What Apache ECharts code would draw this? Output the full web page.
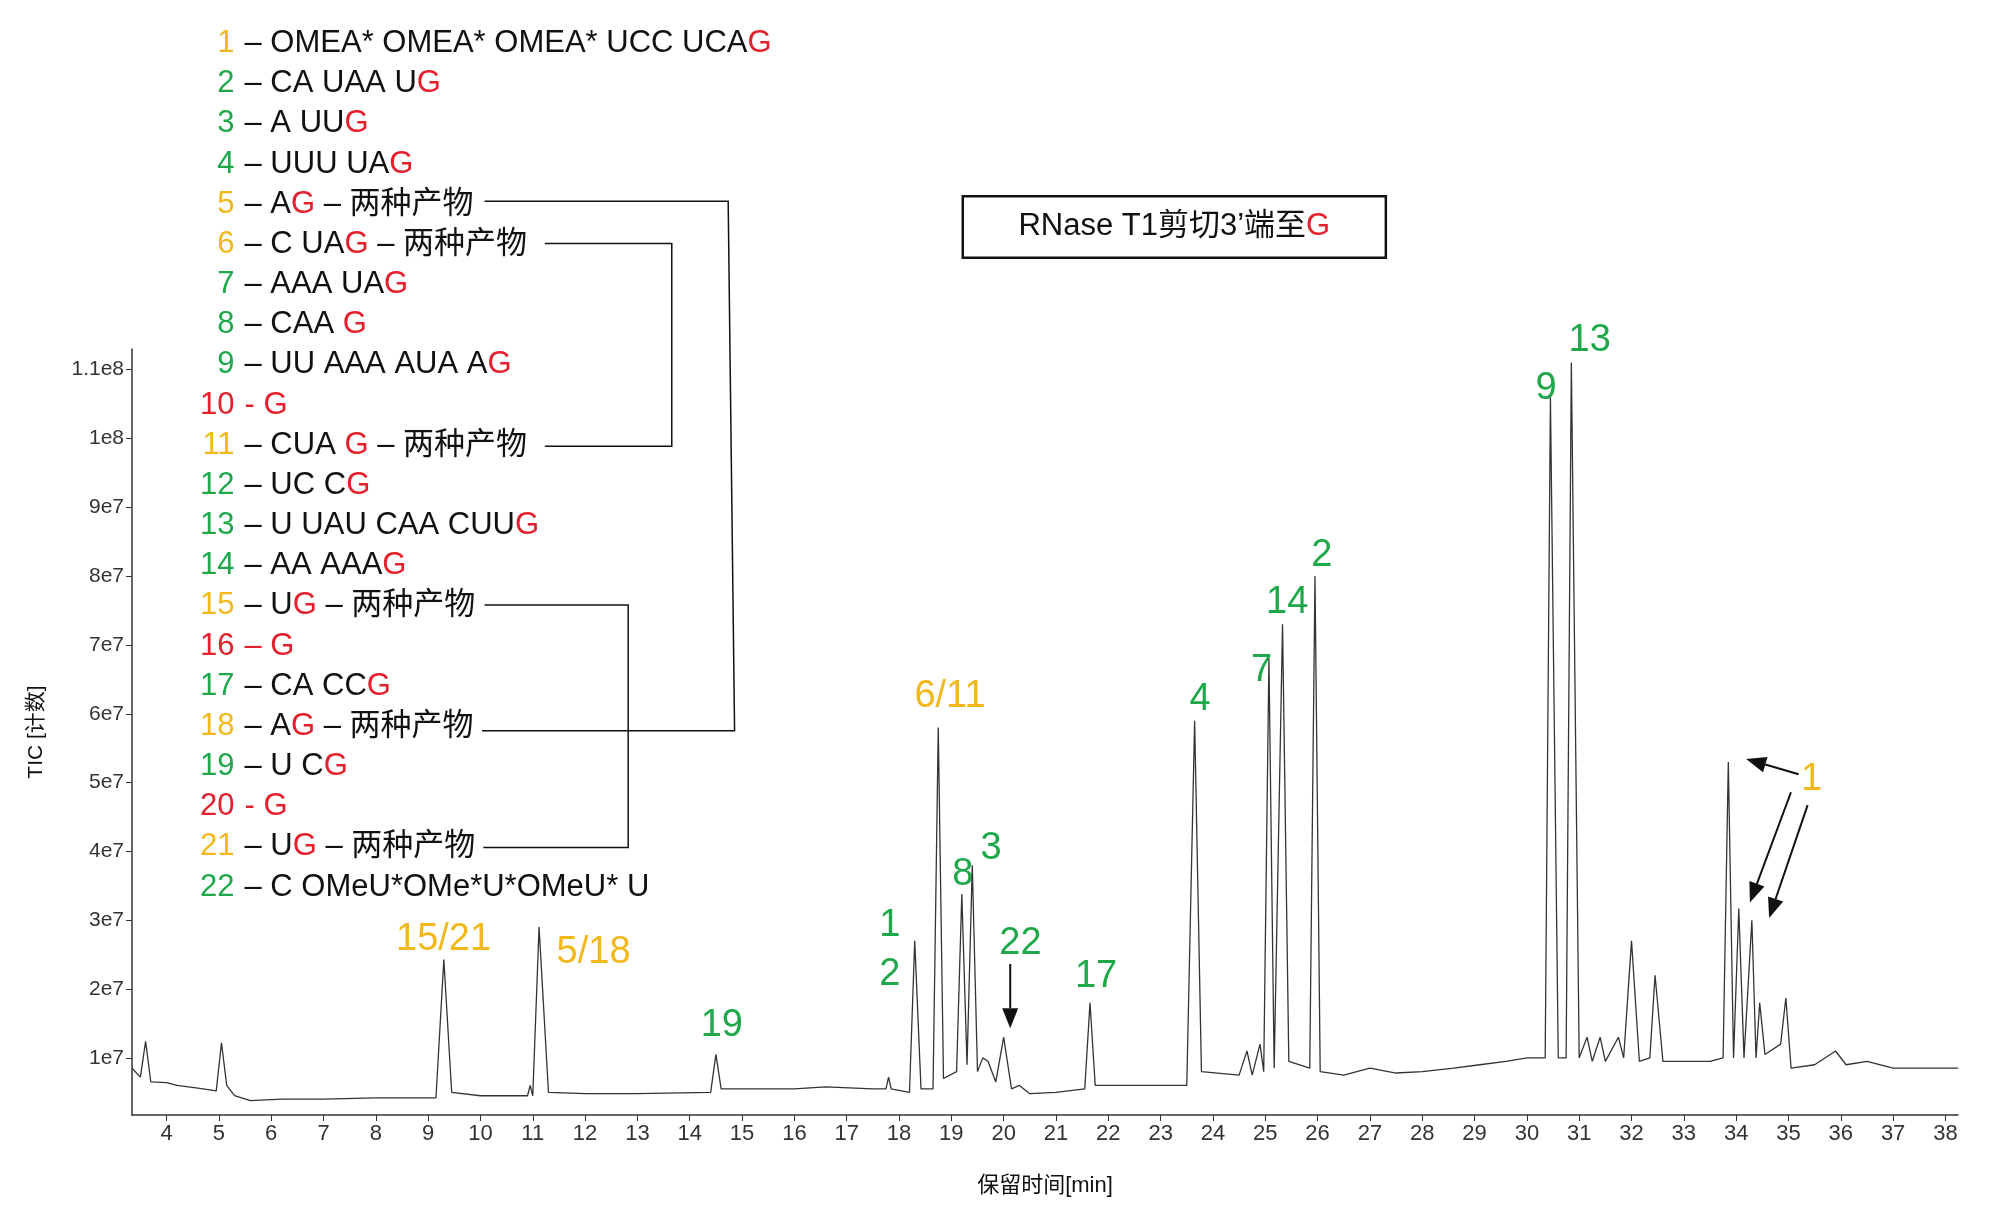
<!DOCTYPE html><html><head><meta charset="utf-8"><script src="https://cdn.jsdelivr.net/npm/echarts@6/dist/echarts.min.js"></script>
<style>html,body{margin:0;background:#fff}#c{width:2000px;height:1213px}</style></head><body><div id="c"></div><script>
// chromatogram points [time(min), TIC]
const ticPoints = [
[3.34,0.85e7],[3.5,0.72e7],[3.6,1.24e7],[3.7,0.65e7],[4.0,0.64e7],[4.2,0.6e7],[4.6,0.56e7],[4.95,0.52e7],[5.05,1.22e7],[5.15,0.6e7],[5.3,0.45e7],[5.6,0.38e7],[6.2,0.4e7],[7,0.4e7],[8,0.42e7],[9.15,0.42e7],[9.3,2.43e7],[9.45,0.5e7],[10,0.45e7],[10.9,0.45e7],[10.95,0.6e7],[11.0,0.45e7],[11.12,2.9e7],[11.3,0.5e7],[12,0.48e7],[13,0.48e7],[14.4,0.5e7],[14.5,1.05e7],[14.6,0.55e7],[15,0.55e7],[16,0.55e7],[16.6,0.58e7],[17.5,0.55e7],[17.75,0.55e7],[17.8,0.72e7],[17.85,0.55e7],[18.2,0.5e7],[18.3,2.7e7],[18.42,0.55e7],[18.65,0.55e7],[18.75,5.8e7],[18.85,0.7e7],[19.1,0.8e7],[19.2,3.38e7],[19.3,0.9e7],[19.4,3.8e7],[19.5,0.8e7],[19.6,1.0e7],[19.7,0.95e7],[19.85,0.65e7],[20.0,1.3e7],[20.15,0.55e7],[20.3,0.6e7],[20.5,0.48e7],[21,0.5e7],[21.55,0.55e7],[21.65,1.8e7],[21.75,0.6e7],[22.5,0.6e7],[23.5,0.6e7],[23.65,5.9e7],[23.78,0.8e7],[24.5,0.75e7],[24.65,1.1e7],[24.75,0.75e7],[24.9,1.2e7],[24.97,0.8e7],[25.07,6.8e7],[25.17,0.85e7],[25.33,7.3e7],[25.45,0.95e7],[25.85,0.85e7],[25.95,8.0e7],[26.05,0.8e7],[26.5,0.75e7],[27,0.85e7],[27.5,0.78e7],[28,0.8e7],[28.6,0.85e7],[29.1,0.9e7],[29.6,0.95e7],[30,1.0e7],[30.35,1.0e7],[30.45,10.6e7],[30.6,1.0e7],[30.75,1.0e7],[30.85,11.1e7],[31.0,1.0e7],[31.15,1.3e7],[31.25,0.95e7],[31.4,1.3e7],[31.5,0.95e7],[31.75,1.3e7],[31.85,1.0e7],[32.0,2.7e7],[32.15,0.95e7],[32.35,1.0e7],[32.45,2.2e7],[32.6,0.95e7],[33,0.95e7],[33.5,0.95e7],[33.75,1.0e7],[33.85,5.3e7],[33.95,1.0e7],[34.05,3.17e7],[34.15,1.0e7],[34.3,3.0e7],[34.38,1.0e7],[34.45,1.8e7],[34.55,1.05e7],[34.85,1.2e7],[34.95,1.87e7],[35.05,0.85e7],[35.5,0.9e7],[35.9,1.1e7],[36.1,0.9e7],[36.5,0.95e7],[37,0.85e7],[38.24,0.85e7]
];
const yTicks = ['1e7','2e7','3e7','4e7','5e7','6e7','7e7','8e7','9e7','1e8','1.1e8'];
const legendItems = [
['1','y','OMEA* OMEA* OMEA* UCC UCA','G',''],['2','g','CA UAA U','G',''],['3','g','A UU','G',''],['4','g','UUU UA','G',''],
['5','y','A','G',' – 两种产物'],['6','y','C UA','G',' – 两种产物'],['7','g','AAA UA','G',''],['8','g','CAA ','G',''],
['9','g','UU AAA AUA A','G',''],['10','r','','G',''],['11','y','CUA ','G',' – 两种产物'],['12','g','UC C','G',''],
['13','g','U UAU CAA CUU','G',''],['14','g','AA AAA','G',''],['15','y','U','G',' – 两种产物'],['16','r','','G',''],
['17','g','CA CC','G',''],['18','y','A','G',' – 两种产物'],['19','g','U C','G',''],['20','r','','G',''],
['21','y','U','G',' – 两种产物'],['22','g','C OMeU*OMe*U*OMeU* U','','']
];
const peakLabels = [
['15/21','y',346,733],['5/18','y',463,743],['19','g',563,800],['1','g',694,722],['2','g',694,760],['6/11','y',741,543],
['8','g',751,682],['3','g',773,662],['22','g',796,736],['17','g',855,762],['4','g',936,546],['7','g',984,523],
['14','g',1004,470],['2','g',1031,433],['9','g',1206,303],['13','g',1240,266],['1','y',1413,608]
];
const C={y:'#F2B71A',g:'#1EA84A',r:'#E3202B',k:'#111'};
const S=1.282;
const F='"Liberation Sans", Arial, "Noto Sans CJK SC", sans-serif';
const FN='"Liberation Sans Narrow", "Liberation Sans", "Noto Sans CJK SC", sans-serif';
const LF='31px '+F;
const g=[];
legendItems.forEach((it,i)=>{
  const y=(34+i*31.33)*S;
  g.push({type:'text',x:183*S,y:y,style:{text:it[0],fill:C[it[1]],font:LF,textAlign:'right',textVerticalAlign:'middle'}});
  let txt;
  if(it[1]==='r') txt='{r|'+(it[0]==='16'?' – ':' - ')+'G}';
  else txt='{k| – '+it[2]+'}'+(it[3]?'{r|'+it[3]+'}':'')+(it[4]?'{k|'+it[4]+'}':'');
  g.push({type:'text',x:184*S,y:y,style:{textVerticalAlign:'middle',font:LF,text:txt,
    rich:{k:{fill:C.k,font:LF},r:{fill:C.r,font:LF}}}});
});
const ln=(pts)=>g.push({type:'polyline',shape:{points:pts.map(p=>[p[0]*S,p[1]*S])},style:{stroke:'#111',lineWidth:1.5,fill:null}});
ln([[378,157],[568,157],[573,570],[376,570]]);
ln([[425,190],[524,190],[524,348],[425,348]]);
ln([[378,472],[490,472],[490,661],[377,661]]);
peakLabels.forEach(p=>g.push({type:'text',x:p[2]*S,y:p[3]*S,style:{text:p[0],fill:C[p[1]],font:'38px '+FN,textAlign:'center',textVerticalAlign:'middle'}}));
const arrow=(x1,y1,x2,y2)=>{x1*=S;y1*=S;x2*=S;y2*=S;const a=Math.atan2(y2-y1,x2-x1),L=20,W=8;
  const bx=x2-L*Math.cos(a),by=y2-L*Math.sin(a);
  g.push({type:'line',shape:{x1,y1,x2:bx,y2:by},style:{stroke:'#111',lineWidth:2}});
  g.push({type:'polygon',shape:{points:[[x2,y2],[bx+W*Math.sin(a),by-W*Math.cos(a)],[bx-W*Math.sin(a),by+W*Math.cos(a)]]},style:{fill:'#111'}});};
arrow(788,752,788,802);arrow(1403,604,1362,592);arrow(1397,618,1365,704);arrow(1410,628,1380,716);
g.push({type:'rect',shape:{x:751*S,y:153*S,width:330*S,height:48*S},style:{fill:'#fff',stroke:'#111',lineWidth:2.5}});
g.push({type:'text',x:916*S,y:177*S,style:{text:'{k|RNase T1剪切3’端至}{r|G}',textAlign:'center',textVerticalAlign:'middle',rich:{k:{fill:C.k,font:'31px '+F},r:{fill:C.r,font:'31px '+F}}}});
const ch=echarts.init(document.getElementById('c'));
ch.setOption({animation:false,
 grid:{left:132,right:42,top:349,bottom:98},
 xAxis:{type:'value',min:3.34,max:38.24,name:'保留时间[min]',nameLocation:'middle',nameGap:60,nameTextStyle:{fontFamily:F,fontSize:22,color:'#111'},
  axisLine:{onZero:false,lineStyle:{color:'#333',width:1.5}},axisTick:{length:6,lineStyle:{color:'#333'},customValues:[4,5,6,7,8,9,10,11,12,13,14,15,16,17,18,19,20,21,22,23,24,25,26,27,28,29,30,31,32,33,34,35,36,37,38]},
  axisLabel:{fontFamily:FN,fontSize:22,color:'#333',customValues:[4,5,6,7,8,9,10,11,12,13,14,15,16,17,18,19,20,21,22,23,24,25,26,27,28,29,30,31,32,33,34,35,36,37,38]},splitLine:{show:false}},
 yAxis:{type:'value',min:1.7e6,max:1.13e8,name:'TIC [计数]',nameLocation:'middle',nameGap:85,nameRotate:90,nameTextStyle:{fontFamily:F,fontSize:21,color:'#111'},
  axisLine:{show:true,onZero:false,lineStyle:{color:'#333',width:1.5}},axisTick:{show:true,length:6,customValues:yTicks.map(Number)},
  axisLabel:{fontFamily:F,fontSize:21,color:'#333',customValues:yTicks.map(Number),formatter:v=>yTicks[Math.round(v/1e7)-1]},splitLine:{show:false}},
 series:[{type:'line',data:ticPoints,showSymbol:false,lineStyle:{color:'#333',width:1.3}}],
 graphic:g});
</script></body></html>
